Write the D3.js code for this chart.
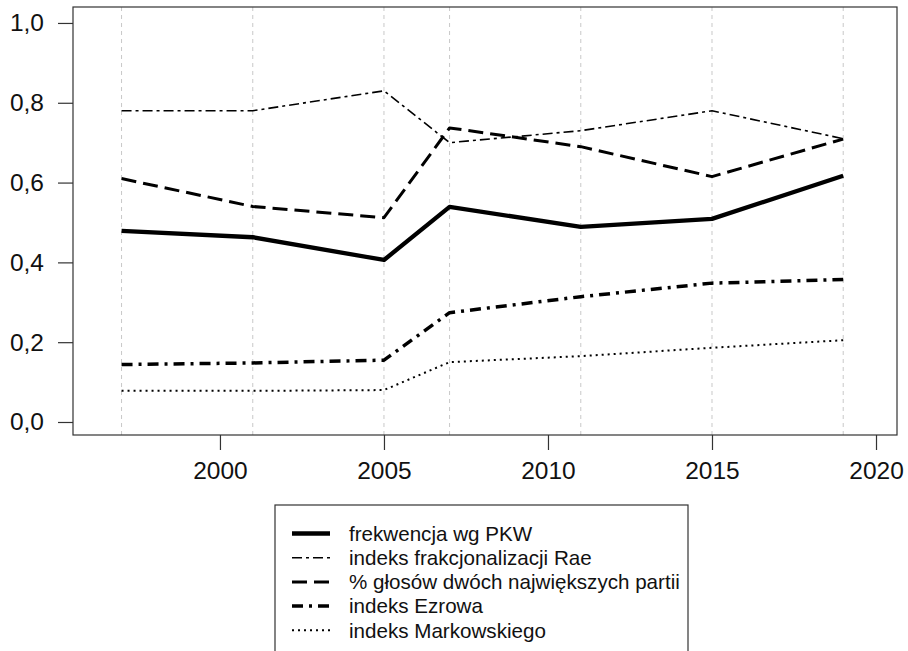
<!DOCTYPE html>
<html>
<head>
<meta charset="utf-8">
<script src="https://cdn.jsdelivr.net/npm/d3@7"></script>
<style>
  body { margin: 0; background: #fff; }
  svg { display: block; font-family: "Liberation Sans", Arial, sans-serif; }
</style>
</head>
<body>
<div id="chart"></div>
<script>
// election years
const years = [1997, 2001, 2005, 2007, 2011, 2015, 2019];

const frekwencja = [0.479, 0.463, 0.406, 0.539, 0.489, 0.509, 0.617];
const rae = [0.78, 0.78, 0.83, 0.70, 0.73, 0.78, 0.71];
const dwieNajwieksze = [0.61, 0.54, 0.512, 0.737, 0.69, 0.615, 0.709];
const ezrow = [0.144, 0.148, 0.155, 0.274, 0.314, 0.348, 0.357];
const markowski = [0.078, 0.078, 0.080, 0.150, 0.165, 0.186, 0.205];

const seriesNames = [
  'frekwencja wg PKW',
  'indeks frakcjonalizacji Rae',
  '% głosów dwóch największych partii',
  'indeks Ezrowa',
  'indeks Markowskiego'
];

const xTicks = [2000, 2005, 2010, 2015, 2020];
const yTicks = [0, 0.2, 0.4, 0.6, 0.8, 1.0];
const yTickLabels = ['0,0', '0,2', '0,4', '0,6', '0,8', '1,0'];

const series = [
  { name: seriesNames[0], values: frekwencja, width: 4.3, dash: null },
  { name: seriesNames[1], values: rae, width: 1.6, dash: '10,4,3,4' },
  { name: seriesNames[2], values: dwieNajwieksze, width: 3, dash: '15,7' },
  { name: seriesNames[3], values: ezrow, width: 3.5, dash: '11,6,3,6' },
  { name: seriesNames[4], values: markowski, width: 2, dash: '2,4' }
];

const W = 908, H = 651;
const svg = d3.select('#chart').append('svg')
  .attr('width', W)
  .attr('height', H);

svg.append('rect').attr('width', W).attr('height', H).attr('fill', '#fff');

const x = d3.scaleLinear().domain([1995.52, 2020.64]).range([73, 897]);
const y = d3.scaleLinear().domain([-0.0326, 1.04]).range([435, 7]);

// vertical grid at election years
svg.append('g')
  .selectAll('line')
  .data(years)
  .join('line')
    .attr('x1', d => x(d))
    .attr('x2', d => x(d))
    .attr('y1', y.range()[1])
    .attr('y2', y.range()[0])
    .attr('stroke', '#c8c8c8')
    .attr('stroke-width', 1)
    .attr('stroke-dasharray', '4,4');

const line = d3.line()
  .x(d => x(d.year))
  .y(d => y(d.value));

series.forEach((s) => {
  svg.append('path')
    .datum(years.map((year, i) => ({ year, value: s.values[i] })))
    .attr('fill', 'none')
    .attr('stroke', '#000')
    .attr('stroke-width', s.width)
    .attr('stroke-dasharray', s.dash)
    .attr('stroke-linejoin', 'round')
    .attr('d', line);
});

// plot box
svg.append('rect')
  .attr('x', 73)
  .attr('y', 7)
  .attr('width', 897 - 73)
  .attr('height', 435 - 7)
  .attr('fill', 'none')
  .attr('stroke', '#333')
  .attr('stroke-width', 1.2);

const xAxis = svg.append('g')
    .attr('transform', 'translate(0,435)')
    .call(d3.axisBottom(x).tickValues(xTicks).tickSize(15).tickPadding(12).tickFormat(d3.format('d')));
xAxis.select('.domain').remove();

const yAxis = svg.append('g')
    .attr('transform', 'translate(73,0)')
    .call(d3.axisLeft(y).tickValues(yTicks).tickSize(15).tickPadding(14)
      .tickFormat((d, i) => yTickLabels[i]));
yAxis.select('.domain').remove();

svg.selectAll('.tick line').attr('stroke', '#333').attr('stroke-width', 1.2);
svg.selectAll('.tick text')
  .attr('fill', '#111')
  .style('font-size', '24.5px')
  .style('font-family', '"Liberation Sans", Arial, sans-serif');

// legend
const legend = svg.append('g');
legend.append('rect')
  .attr('x', 275)
  .attr('y', 505)
  .attr('width', 413)
  .attr('height', 170)
  .attr('fill', '#fff')
  .attr('stroke', '#333')
  .attr('stroke-width', 1.2);

series.forEach((s, i) => {
  const ly = 533.5 + i * 24.2;
  legend.append('line')
    .attr('x1', 292).attr('x2', 330)
    .attr('y1', ly).attr('y2', ly)
    .attr('stroke', '#000')
    .attr('stroke-width', s.width)
    .attr('stroke-dasharray', s.dash);
  legend.append('text')
    .attr('x', 349)
    .attr('y', ly)
    .attr('dy', '0.35em')
    .attr('fill', '#111')
    .style('font-size', '20.6px')
    .text(s.name);
});
</script>
</body>
</html>
